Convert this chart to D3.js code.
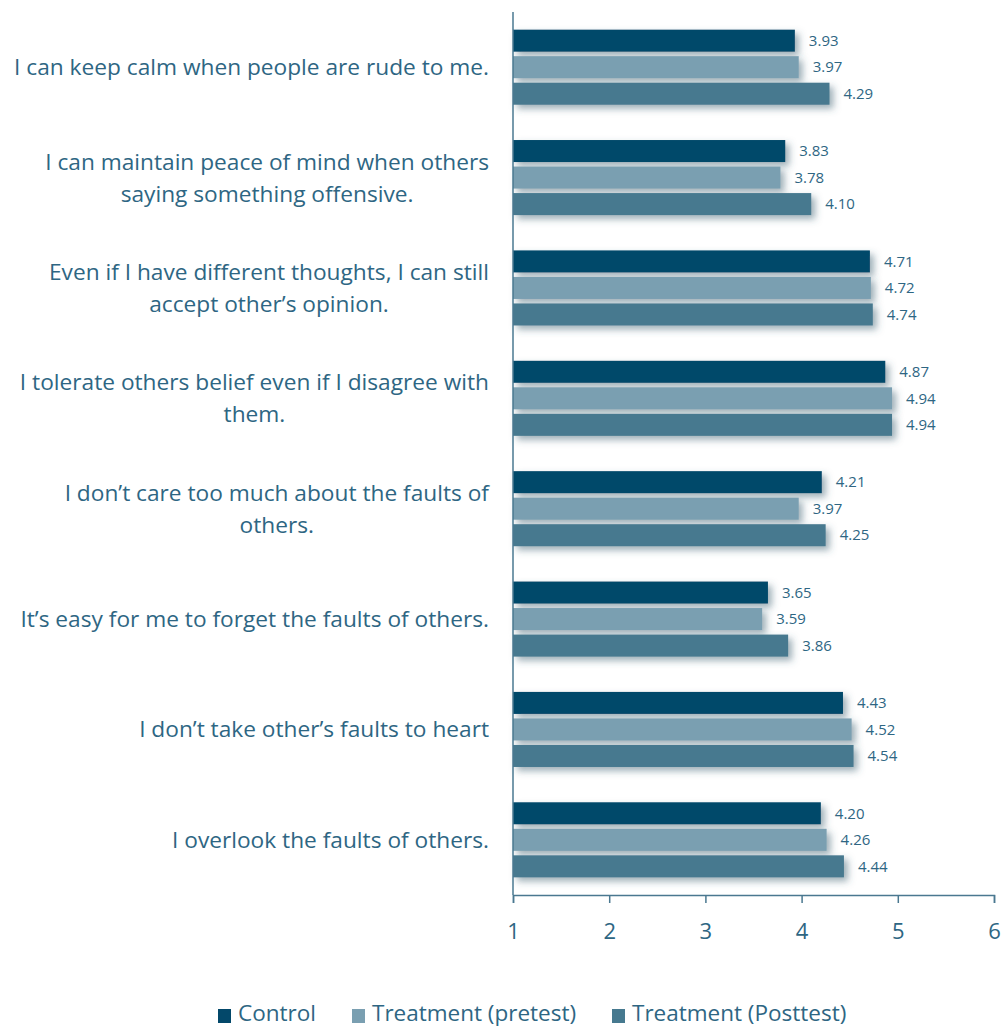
<!DOCTYPE html>
<html>
<head>
<meta charset="utf-8">
<script src="https://cdn.jsdelivr.net/npm/d3@7"></script>
<style>
  html, body { margin: 0; padding: 0; background: #ffffff; }
  svg { display: block; font-family: "Open Sans", "Noto Sans", sans-serif; }
</style>
</head>
<body>
<svg id="chart" width="1003" height="1030"></svg>
<script>
// Survey statements (each entry is a list of display lines)
const categories = [
  ["I can keep calm when people are rude to me."],
  ["I can maintain peace of mind when others", "saying something offensive."],
  ["Even if I have different thoughts, I can still", "accept other\u2019s opinion."],
  ["I tolerate others belief even if I disagree with", "them."],
  ["I don\u2019t care too much about the faults of", "others."],
  ["It\u2019s easy for me to forget the faults of others."],
  ["I don\u2019t take other\u2019s faults to heart"],
  ["I overlook the faults of others."]
];
const seriesNames = ["Control", "Treatment (pretest)", "Treatment (Posttest)"];
const controlValues  = [3.93, 3.83, 4.71, 4.87, 4.21, 3.65, 4.43, 4.20];
const pretestValues  = [3.97, 3.78, 4.72, 4.94, 3.97, 3.59, 4.52, 4.26];
const posttestValues = [4.29, 4.10, 4.74, 4.94, 4.25, 3.86, 4.54, 4.44];
const tickValues = [1, 2, 3, 4, 5, 6];

const seriesColors = ["#03486a", "#7a9fb1", "#46798f"];
const textColor = "#2e6683";
const axisColor = "#4a7890";

const svg = d3.select("#chart");

const plotLeft = 513, plotRight = 994, plotTop = 12, plotBottom = 895;
const catIds = categories.map((d, i) => i);
const valuesBySeries = [controlValues, pretestValues, posttestValues];

const x = d3.scaleLinear().domain([1, 6]).range([plotLeft, plotRight]);
const y0 = d3.scaleBand().domain(catIds).range([plotTop, plotBottom])
  .paddingInner(0.32).paddingOuter(0.16);
const y1 = d3.scaleBand().domain(d3.range(seriesNames.length))
  .range([0, y0.bandwidth()]).paddingInner(0.17).paddingOuter(0);

// soft shadow behind each bar
const defs = svg.append("defs");
const f = defs.append("filter").attr("id", "barShadow")
  .attr("x", "-5%").attr("y", "-40%").attr("width", "115%").attr("height", "200%");
f.append("feDropShadow").attr("dx", 4).attr("dy", 4).attr("stdDeviation", 3.5)
  .attr("flood-color", "#3d5f70").attr("flood-opacity", 0.5);

// bars
const groups = svg.append("g").selectAll("g").data(catIds).join("g")
  .attr("transform", i => `translate(0,${y0(i)})`);

groups.selectAll("rect")
  .data(i => valuesBySeries.map((vals, s) => ({ s, v: vals[i] })))
  .join("rect")
  .attr("x", x(1))
  .attr("y", d => y1(d.s))
  .attr("width", d => x(d.v) - x(1))
  .attr("height", y1.bandwidth())
  .attr("fill", d => seriesColors[d.s])
  .attr("filter", "url(#barShadow)");

// value labels
groups.selectAll("text.val")
  .data(i => valuesBySeries.map((vals, s) => ({ s, v: vals[i] })))
  .join("text")
  .attr("class", "val")
  .attr("x", d => x(d.v) + 14)
  .attr("y", d => y1(d.s) + y1.bandwidth() / 2)
  .attr("dy", "0.35em")
  .attr("font-size", 15)
  .attr("fill", textColor)
  .text(d => d3.format(".2f")(d.v));

// category labels: lines centred within a block that is right-aligned to the axis
const labelRight = 489;
const lineH = 32;
categories.forEach((lines, i) => {
  const cy = y0(i) + y0.bandwidth() / 2;
  const g = svg.append("g");
  const texts = lines.map((ln, k) => g.append("text")
    .attr("font-size", 22.7)
    .attr("fill", textColor)
    .attr("text-anchor", "middle")
    .attr("y", cy + (k - (lines.length - 1) / 2) * lineH)
    .attr("dy", "0.35em")
    .text(ln));
  const w = d3.max(texts, t => t.node().getComputedTextLength());
  texts.forEach(t => t.attr("x", labelRight - w / 2));
});

// axes
svg.append("line")
  .attr("x1", plotLeft).attr("x2", plotLeft).attr("y1", plotTop).attr("y2", plotBottom)
  .attr("stroke", axisColor).attr("stroke-width", 1.5);

const xAxis = svg.append("g")
  .attr("transform", `translate(0,${plotBottom})`)
  .call(d3.axisBottom(x).tickValues(tickValues).tickFormat(d3.format("d"))
    .tickSize(8).tickPadding(20));
xAxis.select(".domain").attr("stroke", axisColor).attr("stroke-width", 1.5);
xAxis.selectAll(".tick line").attr("stroke", axisColor).attr("stroke-width", 1.5);
xAxis.selectAll(".tick text")
  .attr("font-size", 22).attr("fill", textColor)
  .attr("font-family", "\"Open Sans\", sans-serif");

// legend
const legendX = [218, 352, 612];
const legend = svg.append("g").attr("transform", "translate(0,1013)");
seriesNames.forEach((name, s) => {
  legend.append("rect")
    .attr("x", legendX[s]).attr("y", -4).attr("width", 13).attr("height", 14)
    .attr("fill", seriesColors[s]);
  legend.append("text")
    .attr("x", legendX[s] + 20).attr("y", 0).attr("dy", "0.35em")
    .attr("font-size", 22.5).attr("fill", textColor)
    .text(name);
});
</script>
</body>
</html>
